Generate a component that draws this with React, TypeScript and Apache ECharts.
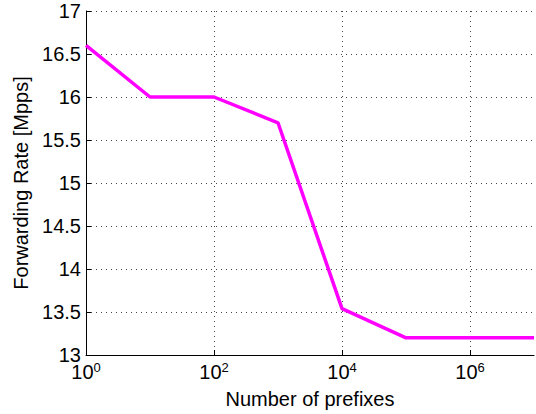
import React, { useEffect, useRef } from "react";
import * as echarts from "echarts";

const prefixes = [1, 10, 100, 1000, 10000, 100000, 1000000, 10000000];
const rates = [16.6, 16.0, 16.0, 15.7, 13.54, 13.2, 13.2, 13.2];
const xTickExponents = [0, 2, 4, 6];
const xAxisName = "Number of prefixes";
const yAxisName = "Forwarding Rate [Mpps]";

export default function App() {
  const ref = useRef<HTMLDivElement>(null);
  useEffect(() => {
    if (!ref.current) return;
    const chart = echarts.init(ref.current, undefined, { renderer: "svg" });
    const font = "'Liberation Sans', Arial, Helvetica, sans-serif";
    chart.setOption({
      animation: false,
      backgroundColor: "#ffffff",
      grid: { left: 86, right: 2, top: 11, bottom: 56, containLabel: false },
      xAxis: {
        type: "value",
        min: 0,
        max: 7,
        interval: 2,
        name: xAxisName,
        nameLocation: "middle",
        nameGap: 34,
        nameTextStyle: { fontFamily: font, fontSize: 20, color: "#000" },
        axisLine: { show: true, lineStyle: { color: "#000", width: 1 } },
        axisTick: { show: true, inside: true, length: 5, lineStyle: { color: "#000" } },
        axisLabel: {
          margin: 7,
          showMaxLabel: false,
          formatter: (v: number) =>
            xTickExponents.includes(v) ? `{b|10}{e|${v}}` : "",
          rich: {
            b: { fontFamily: font, fontSize: 20, lineHeight: 20, color: "#000" },
            e: { fontFamily: font, fontSize: 13, lineHeight: 13, color: "#000", padding: [0, 0, 9, 0] },
          },
        },
        splitLine: {
          show: true,
          showMinLine: false,
          showMaxLine: false,
          lineStyle: { color: "#444", type: [1, 4], width: 1 },
        },
      },
      yAxis: {
        type: "value",
        min: 13,
        max: 17,
        interval: 0.5,
        name: yAxisName,
        nameLocation: "middle",
        nameGap: 52,
        nameTextStyle: { fontFamily: font, fontSize: 20, color: "#000" },
        axisLine: { show: true, lineStyle: { color: "#000", width: 1 } },
        axisTick: { show: true, inside: true, length: 5, lineStyle: { color: "#000" } },
        axisLabel: {
          margin: 5,
          fontFamily: font,
          fontSize: 20,
          lineHeight: 14,
          color: "#000",
          formatter: (v: number) => String(v),
        },
        splitLine: {
          show: true,
          showMinLine: false,
          lineStyle: { color: "#444", type: [1, 4], width: 1 },
        },
      },
      series: [
        {
          type: "line",
          data: prefixes.map((p, i) => [Math.log10(p), rates[i]]),
          showSymbol: false,
          symbol: "none",
          lineStyle: { color: "#ff00ff", width: 3.5 },
          itemStyle: { color: "#ff00ff" },
        },
      ],
    });
    return () => chart.dispose();
  }, []);
  return <div ref={ref} style={{ width: 536, height: 414, position: "absolute", left: 0, top: 0 }} />;
}
